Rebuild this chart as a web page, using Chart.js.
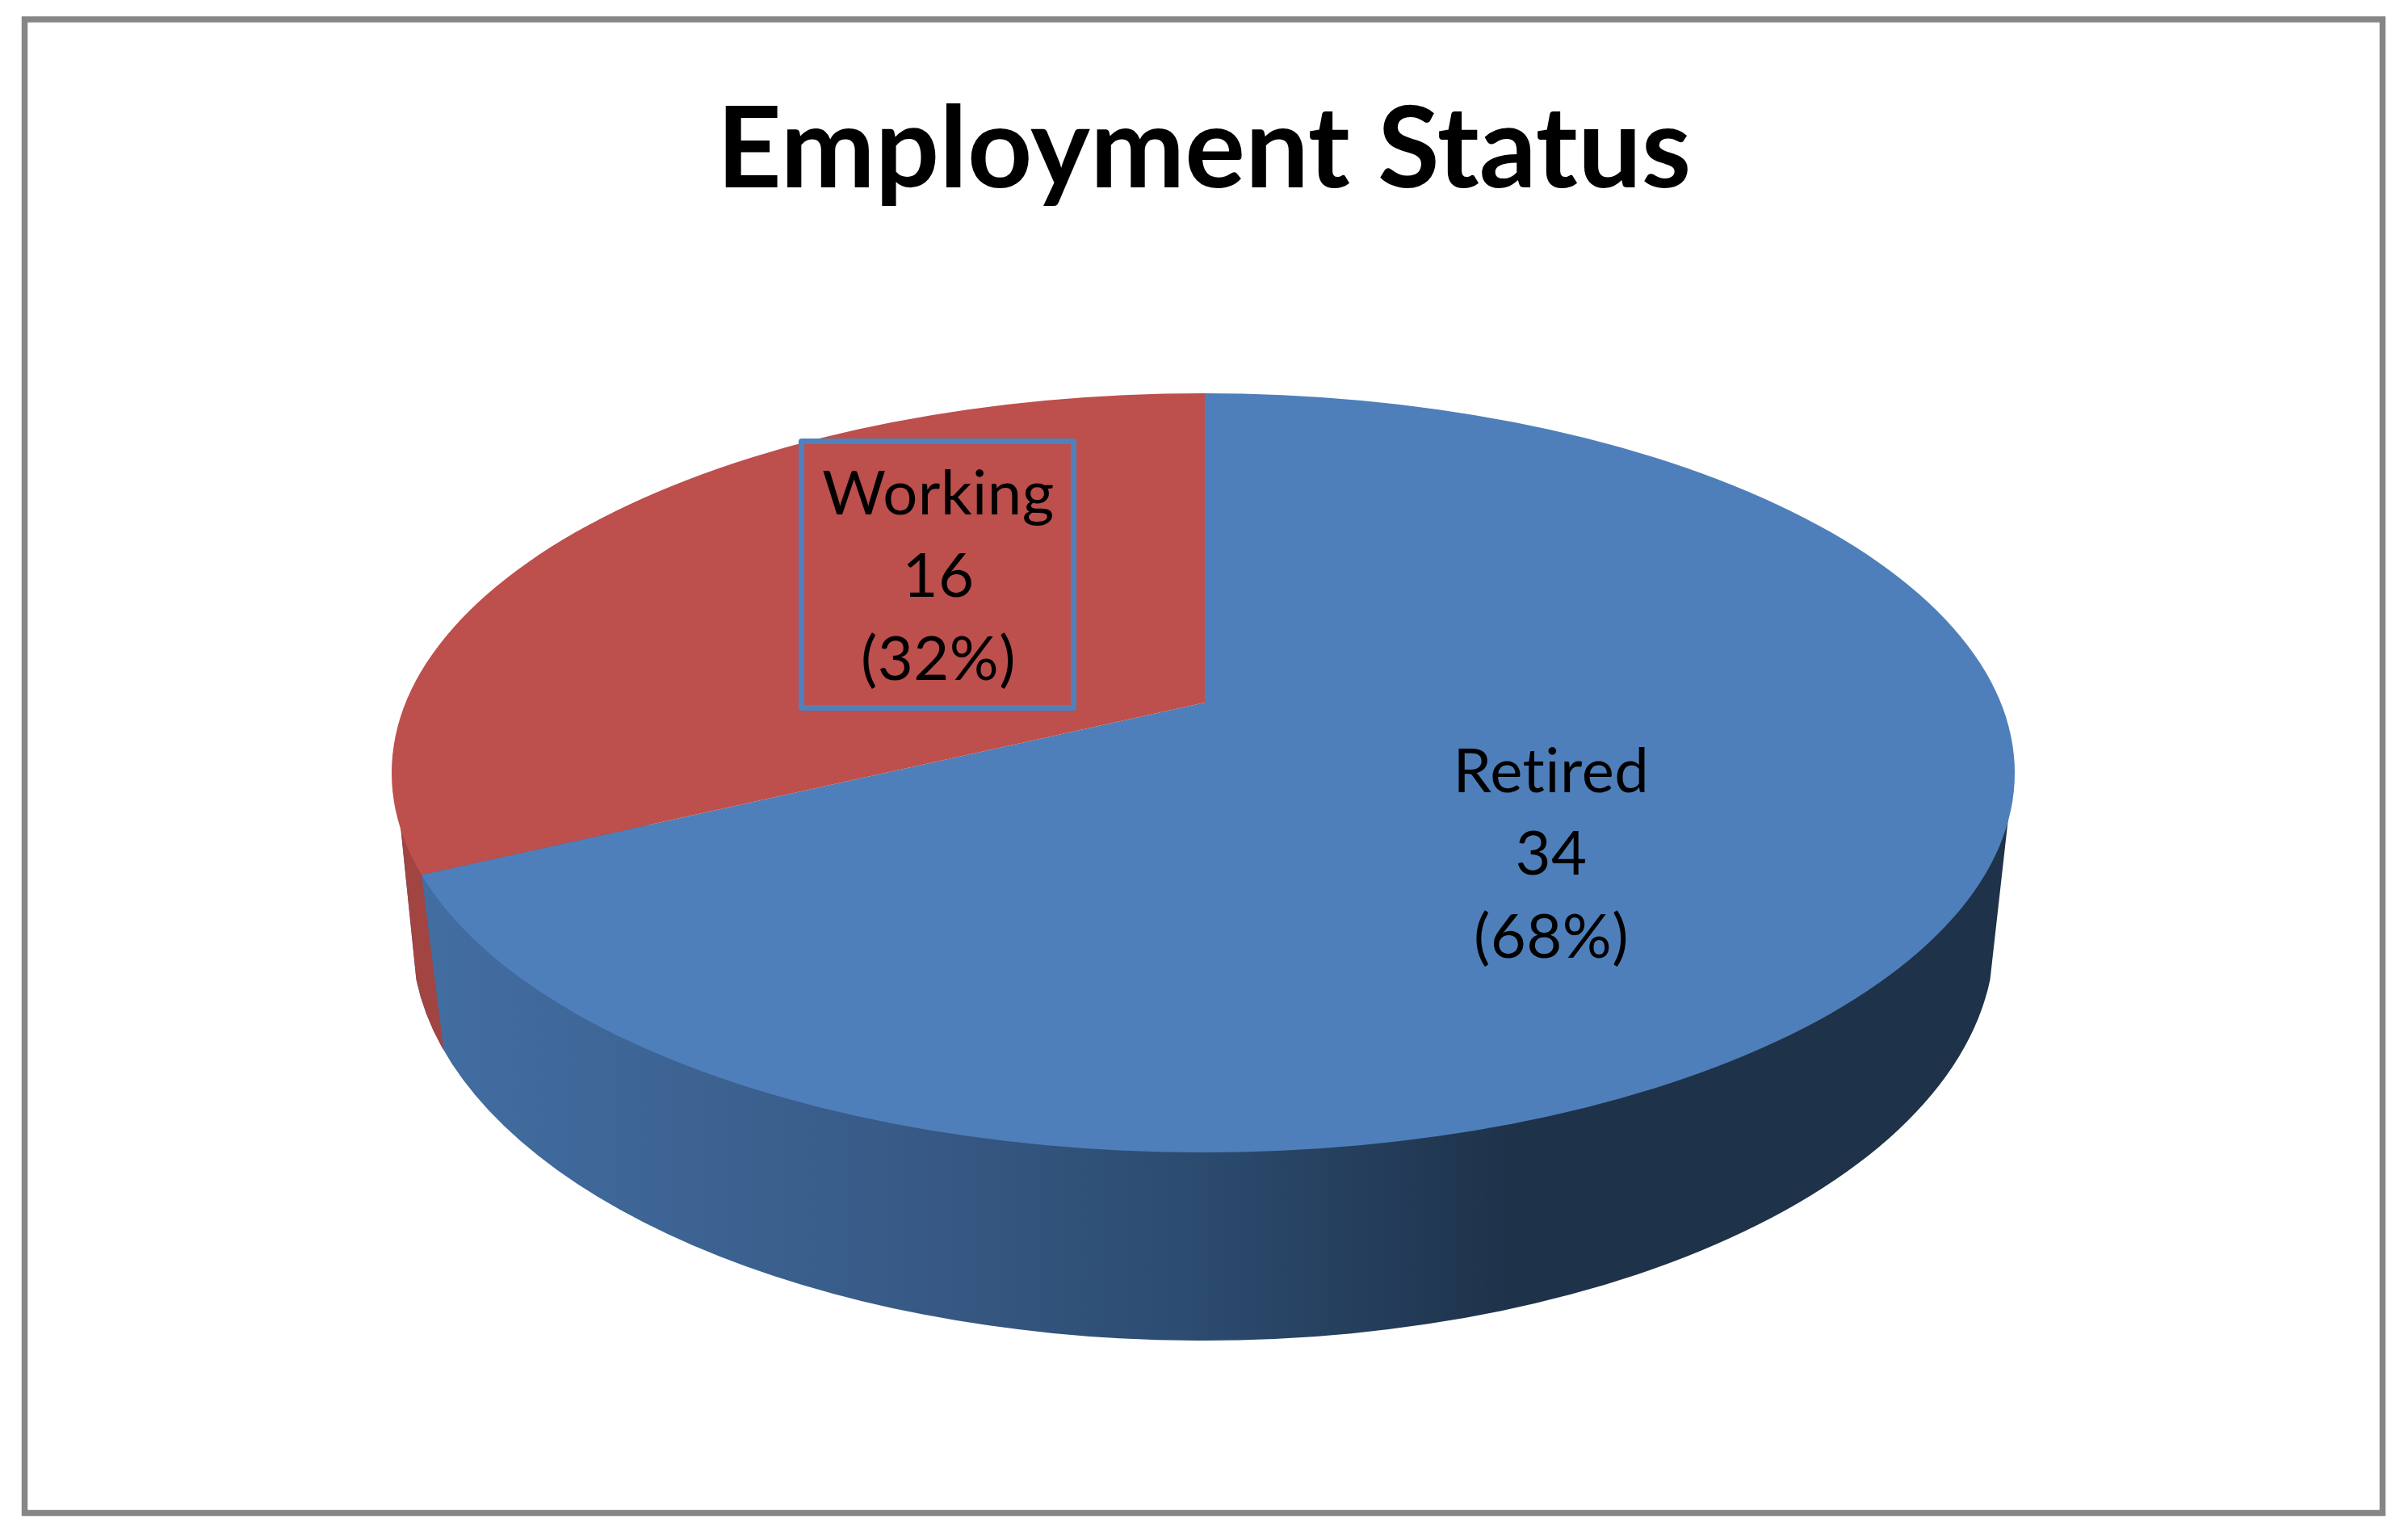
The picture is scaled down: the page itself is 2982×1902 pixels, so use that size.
<!DOCTYPE html>
<html>
<head>
<meta charset="utf-8">
<title>Employment Status</title>
<script src="https://cdn.jsdelivr.net/npm/chart.js@4/dist/chart.umd.js"></script>
<style>
    html, body { margin: 0; padding: 0; background: #ffffff; }
    canvas { display: block; }
</style>
</head>
<body>
<canvas id="pie" width="2982" height="1902"></canvas>
<script>
var categories = ['Retired', 'Working'];
var counts = [34, 16];
var sliceColors = ['#4e7fba', '#bd4f4c'];
var chartTitle = 'Employment Status';

// where the tilted pie sits on the page
var top3d = { cx: 1490, cy: 957, rx: 1005, ry: 470 };
var bottom3d = { cx: 1490, cy: 1160, rx: 980, ry: 500 };
var apex = { x: 1492, y: 870 };
var squash = top3d.ry / top3d.rx;
var coverRadius = 1210;

function sideWallPath(ctx) {
    var a = 0.106;
    ctx.beginPath();
    ctx.moveTo(2487, 1013);
    ctx.ellipse(bottom3d.cx, bottom3d.cy, bottom3d.rx, bottom3d.ry, 0, a, Math.PI - a);
    ctx.lineTo(496, 1023);
    ctx.closePath();
}

// point where a slice edge meets the top ellipse
function edgePoint(angle) {
    var dx = Math.cos(angle), dy = Math.sin(angle) * squash;
    var r = 0;
    while (Math.pow((apex.x + dx * r - top3d.cx) / top3d.rx, 2) + Math.pow((apex.y + dy * r - top3d.cy) / top3d.ry, 2) < 1) {
        r += 0.5;
    }
    return { x: apex.x + dx * r, y: apex.y + dy * r };
}

var framePlugin = {
    id: 'frame',
    beforeDraw: function (chart) {
        var ctx = chart.ctx;
        ctx.save();
        ctx.strokeStyle = '#868686';
        ctx.lineWidth = 7.5;
        ctx.strokeRect(30.5, 24, 2920, 1849.5);
        ctx.restore();
    }
};

var tiltPlugin = {
    id: 'tilt',
    beforeDatasetsDraw: function (chart) {
        var ctx = chart.ctx;
        var arcs = chart.getDatasetMeta(0).data;
        var edge = edgePoint(arcs[0].endAngle);

        // side wall
        ctx.save();
        var grad = ctx.createLinearGradient(545, 0, 1880, 0);
        grad.addColorStop(0, '#426da1');
        grad.addColorStop(0.416, '#385b87');
        grad.addColorStop(0.715, '#2b4a6e');
        grad.addColorStop(1, '#1e3249');
        sideWallPath(ctx);
        ctx.fillStyle = grad;
        ctx.fill();
        ctx.clip();
        ctx.beginPath();
        ctx.moveTo(0, 800);
        ctx.lineTo(edge.x, 800);
        ctx.lineTo(edge.x, edge.y);
        ctx.lineTo(edge.x + 27, edge.y + 214);
        ctx.lineTo(edge.x + 27, 1400);
        ctx.lineTo(0, 1400);
        ctx.closePath();
        ctx.fillStyle = '#a14442';
        ctx.fill();
        ctx.restore();

        // library slices, flattened round the apex and cut to the top ellipse
        var k = coverRadius / arcs[0].outerRadius;
        ctx.save();
        ctx.beginPath();
        ctx.ellipse(top3d.cx, top3d.cy, top3d.rx, top3d.ry, 0, 0, Math.PI * 2);
        ctx.clip();
        ctx.translate(apex.x, apex.y);
        ctx.scale(k, k * squash);
        ctx.translate(-arcs[0].x, -arcs[0].y);
    },
    afterDatasetsDraw: function (chart) {
        chart.ctx.restore();
    }
};

var labelPlugin = {
    id: 'sliceLabels',
    afterDraw: function (chart) {
        var ctx = chart.ctx;
        var total = counts.reduce(function (a, b) { return a + b; }, 0);
        var centers = [{ x: 1921, y: 981 }, { x: 1162, y: 637 }];

        ctx.save();
        ctx.strokeStyle = '#4f81bd';
        ctx.lineWidth = 7;
        ctx.lineJoin = 'round';
        ctx.strokeRect(992.5, 546.5, 337, 330);

        ctx.fillStyle = '#000000';
        ctx.font = '76px Lato';
        ctx.letterSpacing = '0.5px';
        ctx.textAlign = 'center';
        ctx.textBaseline = 'alphabetic';
        categories.forEach(function (name, i) {
            var c = centers[i];
            ctx.fillText(name, c.x, c.y);
            ctx.fillText(String(counts[i]), c.x, c.y + 102);
            ctx.fillText('(' + Math.round(counts[i] / total * 100) + '%)', c.x, c.y + 205);
        });
        ctx.restore();
    }
};

new Chart(document.getElementById('pie'), {
    type: 'pie',
    data: {
        labels: categories,
        datasets: [{
            data: counts,
            backgroundColor: sliceColors,
            borderWidth: 0,
            clip: false
        }]
    },
    options: {
        responsive: false,
        animation: false,
        plugins: {
            legend: { display: false },
            tooltip: { enabled: false },
            title: {
                display: true,
                text: chartTitle,
                color: '#000000',
                font: { family: 'Lato', size: 140, weight: 'bold', lineHeight: 1.2 },
                padding: { top: 103, bottom: 20 }
            }
        }
    },
    plugins: [framePlugin, tiltPlugin, labelPlugin]
});
</script>
</body>
</html>
